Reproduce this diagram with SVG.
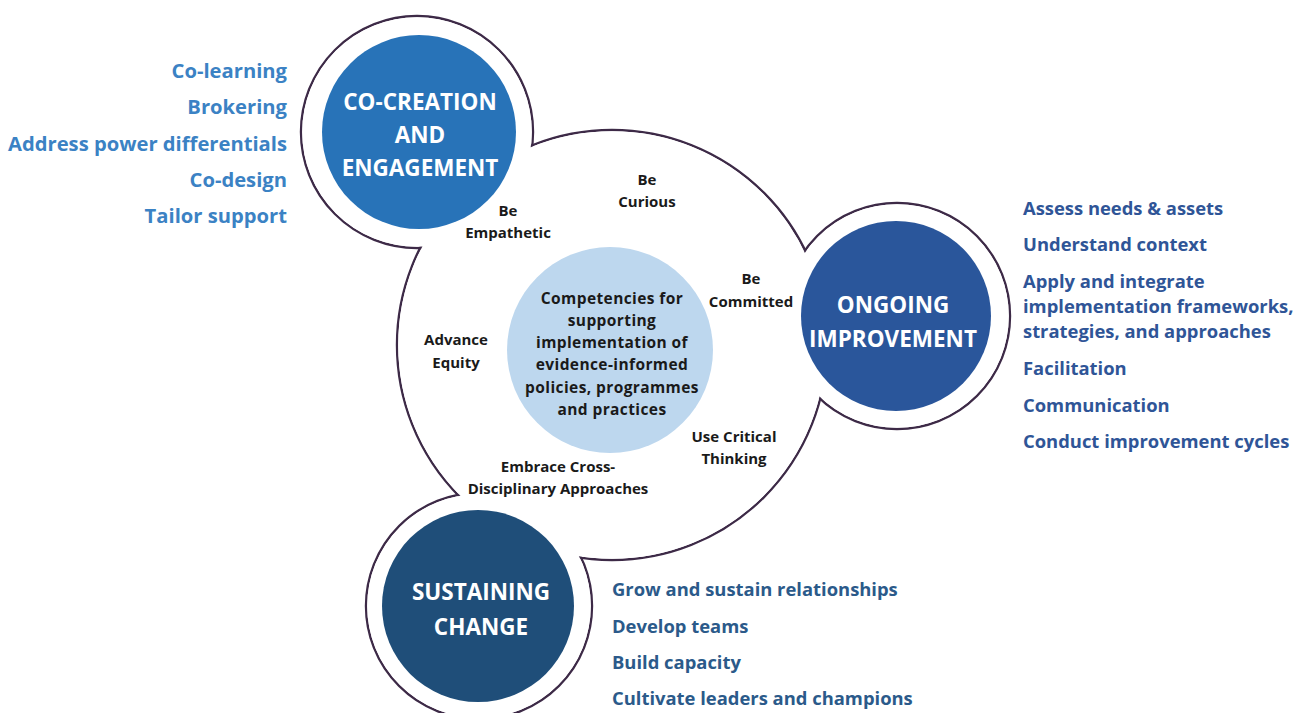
<svg xmlns="http://www.w3.org/2000/svg" width="1300" height="713" viewBox="0 0 1300 713">
<style>
.ol{fill:none;stroke:#3d2a47;stroke-width:2.4}
.wf{fill:#ffffff;stroke:none}
.title{font-family:"Open Sans",Lato,sans-serif;font-weight:700;font-size:22.5px;fill:#ffffff;text-anchor:middle}
.inner{font-family:"Open Sans",Lato,sans-serif;font-weight:700;font-size:15px;fill:#1a1a1a;text-anchor:middle}
.center{font-family:"Open Sans",Lato,sans-serif;font-weight:700;font-size:15.5px;fill:#1a1a1a;text-anchor:middle;letter-spacing:0.4px}
.listL{font-family:"Open Sans",Lato,sans-serif;font-weight:700;font-size:20.2px;fill:#3b82c4;text-anchor:end}
.listR{font-family:"Open Sans",Lato,sans-serif;font-weight:700;font-size:18.4px;fill:#2f5597}
.listB{font-family:"Open Sans",Lato,sans-serif;font-weight:700;font-size:18.4px;fill:#2b5a8a}
</style>
<rect width="1300" height="713" fill="#ffffff"/>
<g id="outline">
  <circle class="ol" cx="612" cy="345" r="215"/>
  <circle class="ol" cx="417" cy="132" r="116"/>
  <circle class="ol" cx="897" cy="316" r="113"/>
  <circle class="ol" cx="479" cy="606" r="113"/>
  <circle class="wf" cx="612" cy="345" r="213.8"/>
  <circle class="wf" cx="417" cy="132" r="114.8"/>
  <circle class="wf" cx="897" cy="316" r="111.8"/>
  <circle class="wf" cx="479" cy="606" r="111.8"/>
</g>
<g id="center">
  <circle cx="610" cy="350" r="103" fill="#bdd7ee"/>
  <text class="center" x="612" y="304">Competencies for</text>
  <text class="center" x="612" y="326">supporting</text>
  <text class="center" x="612" y="348">implementation of</text>
  <text class="center" x="612" y="370">evidence-informed</text>
  <text class="center" x="612" y="393">policies, programmes</text>
  <text class="center" x="612" y="415">and practices</text>
</g>
<g id="co-creation">
  <circle cx="419" cy="132" r="97" fill="#2873b8"/>
  <text class="title" x="420" y="110">CO-CREATION</text>
  <text class="title" x="420" y="143">AND</text>
  <text class="title" x="420" y="176">ENGAGEMENT</text>
</g>
<g id="ongoing">
  <circle cx="896" cy="316" r="95" fill="#2a569b"/>
  <text class="title" x="893" y="313">ONGOING</text>
  <text class="title" x="893" y="347">IMPROVEMENT</text>
</g>
<g id="sustaining">
  <circle cx="478" cy="606" r="96" fill="#1f4e79"/>
  <text class="title" x="481" y="600">SUSTAINING</text>
  <text class="title" x="481" y="635">CHANGE</text>
</g>
<g id="competencies">
  <text class="inner" x="647" y="185">Be</text>
  <text class="inner" x="647" y="207">Curious</text>
  <text class="inner" x="508" y="216">Be</text>
  <text class="inner" x="508" y="238">Empathetic</text>
  <text class="inner" x="751" y="284">Be</text>
  <text class="inner" x="751" y="307">Committed</text>
  <text class="inner" x="456" y="345">Advance</text>
  <text class="inner" x="456" y="368">Equity</text>
  <text class="inner" x="734" y="442">Use Critical</text>
  <text class="inner" x="734" y="464">Thinking</text>
  <text class="inner" x="558" y="472">Embrace Cross-</text>
  <text class="inner" x="558" y="494">Disciplinary Approaches</text>
</g>
<g id="list-co-creation">
  <text class="listL" x="287" y="78">Co-learning</text>
  <text class="listL" x="287" y="114">Brokering</text>
  <text class="listL" x="287" y="151">Address power differentials</text>
  <text class="listL" x="287" y="187">Co-design</text>
  <text class="listL" x="287" y="223">Tailor support</text>
</g>
<g id="list-ongoing">
  <text class="listR" x="1023" y="215">Assess needs &amp; assets</text>
  <text class="listR" x="1023" y="251">Understand context</text>
  <text class="listR" x="1023" y="288">Apply and integrate</text>
  <text class="listR" x="1023" y="313">implementation frameworks,</text>
  <text class="listR" x="1023" y="338">strategies, and approaches</text>
  <text class="listR" x="1023" y="375">Facilitation</text>
  <text class="listR" x="1023" y="412">Communication</text>
  <text class="listR" x="1023" y="448">Conduct improvement cycles</text>
</g>
<g id="list-sustaining">
  <text class="listB" x="612" y="596">Grow and sustain relationships</text>
  <text class="listB" x="612" y="633">Develop teams</text>
  <text class="listB" x="612" y="669">Build capacity</text>
  <text class="listB" x="612" y="705">Cultivate leaders and champions</text>
</g>
</svg>
